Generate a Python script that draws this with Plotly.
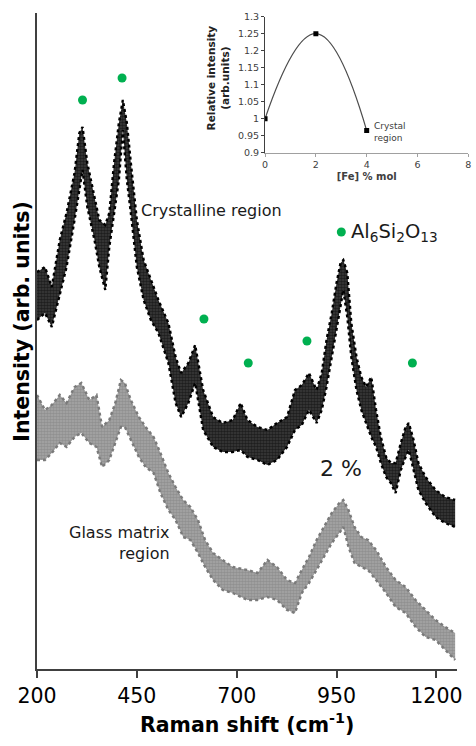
import plotly.graph_objects as go

# ---------------- data ----------------
# Crystalline region spectrum (black): Raman shift and upper / lower envelope of the noisy band
cryst_x = [200, 220, 237, 257, 274, 294, 306, 314, 326, 344, 356, 371, 381, 393, 405, 415, 425, 435,
           450, 467, 485, 504, 529, 547, 561, 579, 596, 616, 641, 665, 690, 710, 727, 752, 777, 801,
           826, 846, 863, 881, 900, 913, 925, 938, 950, 960, 967, 977, 987, 1000, 1012, 1024, 1037,
           1049, 1061, 1074, 1086, 1098, 1111, 1123, 1131, 1143, 1155, 1173, 1198, 1222, 1247]
cryst_hi = [397, 402, 382, 429, 456, 496, 536, 542, 506, 472, 449, 444, 456, 506, 546, 569, 546, 506,
            449, 409, 389, 369, 346, 312, 296, 306, 324, 279, 252, 246, 249, 266, 249, 242, 239, 246,
            252, 279, 284, 296, 279, 296, 329, 356, 386, 406, 409, 396, 346, 312, 292, 282, 292,
            259, 232, 212, 206, 206, 226, 242, 246, 229, 206, 192, 179, 172, 169]
cryst_lo = [349, 356, 342, 376, 402, 449, 479, 499, 462, 429, 402, 379, 422, 456, 489, 539, 489, 456,
            402, 369, 349, 336, 306, 266, 252, 266, 286, 239, 222, 217, 217, 219, 212, 209, 204, 209,
            222, 239, 244, 259, 246, 259, 282, 312, 339, 362, 379, 352, 312, 279, 259, 246, 232,
            222, 206, 192, 186, 176, 199, 212, 219, 199, 179, 166, 152, 146, 142]

# Glass matrix region spectrum (grey)
glass_x = [200, 220, 237, 257, 274, 294, 311, 331, 349, 363, 381, 396, 410, 420, 435, 455, 472, 492,
           509, 529, 547, 566, 584, 603, 621, 641, 665, 690, 727, 752, 777, 801, 826, 846, 863, 881,
           900, 918, 938, 957, 967, 980, 995, 1012, 1029, 1049, 1074, 1098, 1123, 1148, 1173, 1198,
           1222, 1247]
glass_hi = [274, 259, 264, 274, 266, 282, 286, 269, 274, 242, 249, 266, 289, 286, 269, 252, 242, 232,
            216, 196, 182, 169, 162, 149, 129, 116, 109, 102, 99, 96, 109, 102, 89, 86, 99, 112,
            129, 142, 156, 166, 169, 159, 142, 132, 129, 119, 102, 89, 82, 69, 59, 49,
            42, 36]
glass_lo = [209, 209, 216, 226, 222, 232, 236, 226, 222, 202, 209, 226, 242, 242, 229, 212, 202, 196,
            176, 159, 149, 132, 129, 116, 102, 89, 79, 76, 69, 69, 72, 69, 59, 56, 76, 86,
            99, 112, 126, 136, 142, 122, 106, 102, 99, 89, 76, 62, 56, 42, 32, 29,
            19, 9]

# Al6Si2O13 band markers
band_x = [314, 413, 618, 729, 876, 1140]
band_y = [569, 591, 350, 306, 328, 306]

# Inset: relative intensity vs Fe content
fe_x = [0, 2, 4]
rel_int = [1.0, 1.25, 0.965]

x_ticks = [200, 450, 700, 950, 1200]
inset_xticks = [0, 2, 4, 6, 8]
inset_yticks = [0.9, 0.95, 1.0, 1.05, 1.1, 1.15, 1.2, 1.25, 1.3]
inset_ytext = ["0.9", "0.95", "1", "1.05", "1.1", "1.15", "1.2", "1.25", "1.3"]

assert len(cryst_x) == len(cryst_hi) == len(cryst_lo)
assert len(glass_x) == len(glass_hi) == len(glass_lo)

FONT = "DejaVu Sans, sans-serif"

fig = go.Figure()


def band(xs, lo, hi, color, bg):
    fig.add_trace(go.Scatter(x=xs, y=lo, mode="lines", line=dict(color=color, width=2.4, dash="dot"),
                             hoverinfo="skip", showlegend=False))
    fig.add_trace(go.Scatter(x=xs, y=hi, mode="lines", line=dict(color=color, width=2.4, dash="dot"),
                             fill="tonexty", fillcolor=bg,
                             fillpattern=dict(shape=".", fgcolor=color, bgcolor=bg,
                                              size=3, solidity=0.6),
                             hoverinfo="skip", showlegend=False))


band(glass_x, glass_lo, glass_hi, "#7a7a7a", "#a6a6a6")
band(cryst_x, cryst_lo, cryst_hi, "#000000", "#3c3c3c")

fig.add_trace(go.Scatter(x=band_x, y=band_y, mode="markers",
                         marker=dict(color="#00B050", size=9, line=dict(width=0)),
                         showlegend=False))
# legend marker
fig.add_trace(go.Scatter(x=[962], y=[437], mode="markers",
                         marker=dict(color="#00B050", size=9, line=dict(width=0)),
                         showlegend=False))

# inset
fig.add_trace(go.Scatter(x=fe_x, y=rel_int, mode="lines+markers", xaxis="x2", yaxis="y2",
                         line=dict(color="#4d4d4d", width=1.2, shape="spline", smoothing=1.3),
                         marker=dict(symbol="square", color="#000000", size=5),
                         showlegend=False))

axis_col = "#404040"
fig.update_layout(
    width=476, height=746,
    margin=dict(l=37, r=2, t=13, b=77),
    paper_bgcolor="white", plot_bgcolor="white",
    font=dict(family=FONT, color="#000000"),
    xaxis=dict(domain=[0, 425 / 437], range=[200, 1252], tickvals=x_ticks,
               showline=True, linecolor=axis_col, linewidth=2, ticks="outside", ticklen=7,
               tickwidth=2, tickcolor=axis_col, showgrid=False, zeroline=False,
               tickfont=dict(size=20.5, family=FONT, color="#000000")),
    yaxis=dict(domain=[0, 1], range=[0, 656], showline=True, linecolor=axis_col, linewidth=2,
               showticklabels=False, ticks="", showgrid=False, zeroline=False),
    xaxis2=dict(domain=[(267.7 - 37) / 437, (473.3 - 37) / 437], range=[0, 8], anchor="y2",
                tickvals=inset_xticks, showline=True, linecolor="#a0a0a0", linewidth=1.2,
                ticks="outside", ticklen=3, tickcolor="#a0a0a0", showgrid=False, zeroline=False,
                tickfont=dict(size=9.5, color="#404040"),
                title=dict(text="<b>[Fe] % mol</b>", font=dict(size=10, color="#404040"), standoff=3)),
    yaxis2=dict(domain=[1 - (152.7 - 13) / 656, 1 - (16.7 - 13) / 656], range=[0.9, 1.3], anchor="x2",
                tickvals=inset_yticks, ticktext=inset_ytext, showline=True, linecolor="#404040",
                linewidth=1.2, ticks="outside", ticklen=3, tickcolor="#404040", showgrid=False,
                zeroline=False, tickfont=dict(size=9.5, color="#404040")),
)

ann = []
ann.append(dict(x=455, y=459, xref="x", yref="y", text="Crystalline region", showarrow=False,
                xanchor="left", yanchor="middle", font=dict(size=16, color="#1a1a1a")))
ann.append(dict(x=962, y=201, xref="x", yref="y", text="2 %", showarrow=False,
                xanchor="center", yanchor="middle", font=dict(size=22, color="#1a1a1a")))
ann.append(dict(x=539, y=126, xref="x", yref="y", text="Glass matrix<br>region", showarrow=False,
                xanchor="right", yanchor="middle", align="right", font=dict(size=16, color="#1a1a1a")))
ann.append(dict(x=982, y=437, xref="x", yref="y",
                text="Al<sub>6</sub>Si<sub>2</sub>O<sub>13</sub>", showarrow=False,
                xanchor="left", yanchor="middle", font=dict(size=19.5, color="#1a1a1a")))
ann.append(dict(x=(21.5 - 37) / 437, y=1 - (321 - 13) / 656, xref="paper", yref="paper",
                text="<b>Intensity (arb. units)</b>", textangle=-90, showarrow=False,
                xanchor="center", yanchor="middle", font=dict(size=20.5, color="#000000")))
ann.append(dict(x=(249 - 37) / 437, y=1 - (723 - 13) / 656, xref="paper", yref="paper",
                text="<b>Raman shift (cm<sup>-1</sup>)</b>", showarrow=False,
                xanchor="center", yanchor="middle", font=dict(size=20.5, color="#000000")))
# inset texts
ann.append(dict(x=4.2, y=0.962, xref="x2", yref="y2", text="Crystal<br>region", showarrow=False,
                xanchor="left", yanchor="middle", align="left", font=dict(size=9, color="#404040")))
ann.append(dict(x=(220.5 - 37) / 437, y=1 - (78 - 13) / 656, xref="paper", yref="paper",
                text="<b>Relative intensity<br>(arb.units)</b>", textangle=-90, showarrow=False,
                xanchor="center", yanchor="middle", align="center", font=dict(size=10.5, color="#222222")))
fig.update_layout(annotations=ann)

fig.write_html("out.html")
